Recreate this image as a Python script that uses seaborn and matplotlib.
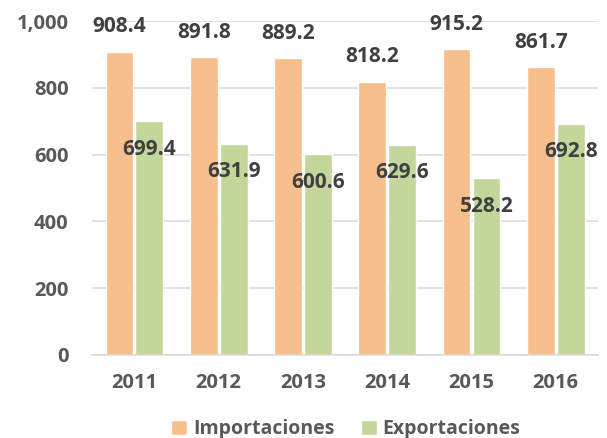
import matplotlib
matplotlib.use("Agg")
import matplotlib.pyplot as plt
import seaborn as sns
import pandas as pd

anios = ["2011", "2012", "2013", "2014", "2015", "2016"]
importaciones = [908.4, 891.8, 889.2, 818.2, 915.2, 861.7]
exportaciones = [699.4, 631.9, 600.6, 629.6, 528.2, 692.8]
series = ["Importaciones", "Exportaciones"]
colores = ["#F8BF8E", "#C4D79B"]

df = pd.DataFrame({
    "anio": anios * 2,
    "valor": importaciones + exportaciones,
    "serie": [series[0]] * len(anios) + [series[1]] * len(anios),
})

sns.set_style("white")
plt.rcParams["font.family"] = ["Open Sans", "DejaVu Sans"]

fig = plt.figure(figsize=(6.07, 4.38), dpi=100)
ax = fig.add_axes([0.152, 0.19, 0.833, 0.762])

sns.barplot(data=df, x="anio", y="valor", hue="serie", hue_order=series,
            palette=colores, saturation=1, width=0.71, gap=0.07, ax=ax,
            legend=True)

ax.set_ylim(0, 1000)
ax.set_yticks(range(0, 1001, 200))
ax.set_yticklabels([f"{v:,}" for v in range(0, 1001, 200)])
ax.yaxis.grid(True, color="#D9D9D9", linewidth=1.1)
ax.set_axisbelow(True)
for s in ["top", "right", "left"]:
    ax.spines[s].set_visible(False)
ax.spines["bottom"].set_color("#D9D9D9")
ax.spines["bottom"].set_linewidth(1.1)
ax.tick_params(length=0, labelsize=14.5, labelcolor="#595959")
ax.tick_params(axis="x", pad=13)
ax.tick_params(axis="y", pad=17)
for t in ax.get_xticklabels() + ax.get_yticklabels():
    t.set_fontweight("bold")
ax.set_xlabel("")
ax.set_ylabel("")

# etiquetas: importaciones encima, exportaciones dentro
offsets = [18, -20]
for cont, off in zip(ax.containers, offsets):
    for bar in cont:
        h = bar.get_height()
        ax.annotate(f"{h:.1f}", (bar.get_x() + bar.get_width() / 2, h),
                    xytext=(0, off), textcoords="offset points",
                    ha="center", va="center", fontsize=15,
                    fontweight="bold", color="#404040")

handles, labels = ax.get_legend_handles_labels()
ax.get_legend().remove()
leg = fig.legend(handles, labels, loc="center", bbox_to_anchor=(0.57, 0.02),
                 ncol=2, frameon=False, fontsize=14, handlelength=0.8,
                 handleheight=0.8, handletextpad=0.3, columnspacing=1.4)
for t in leg.get_texts():
    t.set_color("#595959")
    t.set_fontweight("bold")

fig.savefig("out.png", dpi=100)
